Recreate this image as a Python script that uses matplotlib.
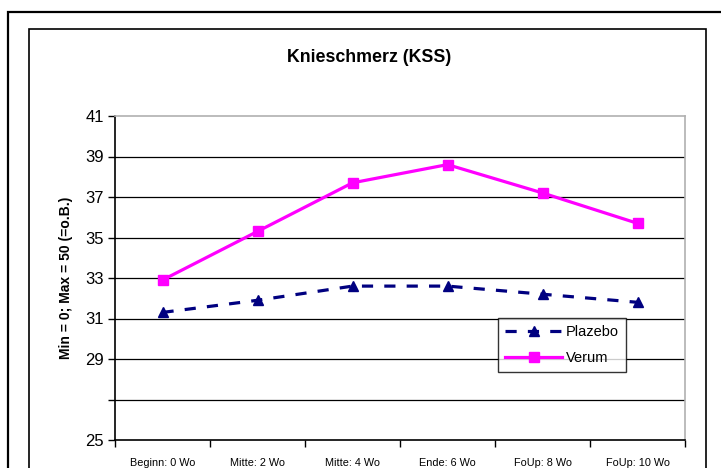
import matplotlib
matplotlib.use("Agg")
import matplotlib.pyplot as plt
from matplotlib.patches import Rectangle

plt.rcParams['font.family'] = ['Liberation Sans', 'DejaVu Sans']

# Daten
zeitpunkte = ["Beginn: 0 Wo", "Mitte: 2 Wo", "Mitte: 4 Wo", "Ende: 6 Wo", "FoUp: 8 Wo", "FoUp: 10 Wo"]
plazebo = [31.3, 31.9, 32.6, 32.6, 32.2, 31.8]
verum = [32.9, 35.3, 37.7, 38.6, 37.2, 35.7]
y_ticks = [25, 27, 29, 31, 33, 35, 37, 39, 41]
y_labels = ["25", "", "29", "31", "33", "35", "37", "39", "41"]

W, H = 721, 468
fig = plt.figure(figsize=(W / 100, H / 100), dpi=100)

def px_rect(x0, y0, x1, y1, lw):
    fig.add_artist(Rectangle((x0 / W, 1 - y1 / H), (x1 - x0) / W, (y1 - y0) / H,
                             transform=fig.transFigure, fill=False,
                             edgecolor='black', linewidth=lw, clip_on=False))

# Rahmen
px_rect(8, 12, 740, 490, 1.6)
px_rect(29, 29, 706, 490, 1.2)

ax = fig.add_axes([115 / W, (H - 440) / H, 570 / W, 324 / H])
x = list(range(len(zeitpunkte)))

ax.plot(x, plazebo, color='#000080', linewidth=2.3, linestyle=(0, (3.5, 3.5)),
        marker='^', markersize=7.5, label='Plazebo')
ax.plot(x, verum, color='#FF00FF', linewidth=2.3, marker='s', markersize=7.5,
        label='Verum')

ax.set_xlim(-0.5, len(zeitpunkte) - 0.5)
ax.set_ylim(25, 41)
ax.set_yticks(y_ticks)
ax.set_yticklabels(y_labels, fontsize=12)
ax.set_xticks([i - 0.5 for i in range(len(zeitpunkte) + 1)])
ax.set_xticklabels([])
ax.set_xticks(x, minor=True)
ax.set_xticklabels(zeitpunkte, minor=True, fontsize=7.8)
ax.tick_params(axis='x', which='minor', length=0, pad=13)
ax.tick_params(axis='x', which='major', length=5, width=1, direction='out')
ax.tick_params(axis='y', length=5, width=1, direction='out', pad=3)

for v in y_ticks[1:-1]:
    ax.axhline(v, color='black', linewidth=0.9, zorder=0)

ax.spines['left'].set_color('black')
ax.spines['bottom'].set_color('black')
ax.spines['top'].set_color('#B0B0B0')
ax.spines['right'].set_color('#B0B0B0')
for s in ax.spines.values():
    s.set_linewidth(1.2)

ax.set_ylabel('Min = 0; Max = 50 (=o.B.)', fontsize=10, fontweight='bold', labelpad=9)
fig.text(369 / W, 1 - 58 / H, 'Knieschmerz (KSS)', ha='center', va='center',
         fontsize=12.8, fontweight='bold')

leg = ax.legend(loc='upper left', bbox_to_anchor=((498 - 115) / 570, (440 - 318) / 324),
                fontsize=10.5, frameon=True, fancybox=False, handlelength=3.9,
                borderpad=0.5, labelspacing=0.8, handletextpad=0.25, borderaxespad=0)
leg.get_frame().set_edgecolor('black')
leg.get_frame().set_linewidth(1.0)

fig.savefig('out.png', dpi=100)
